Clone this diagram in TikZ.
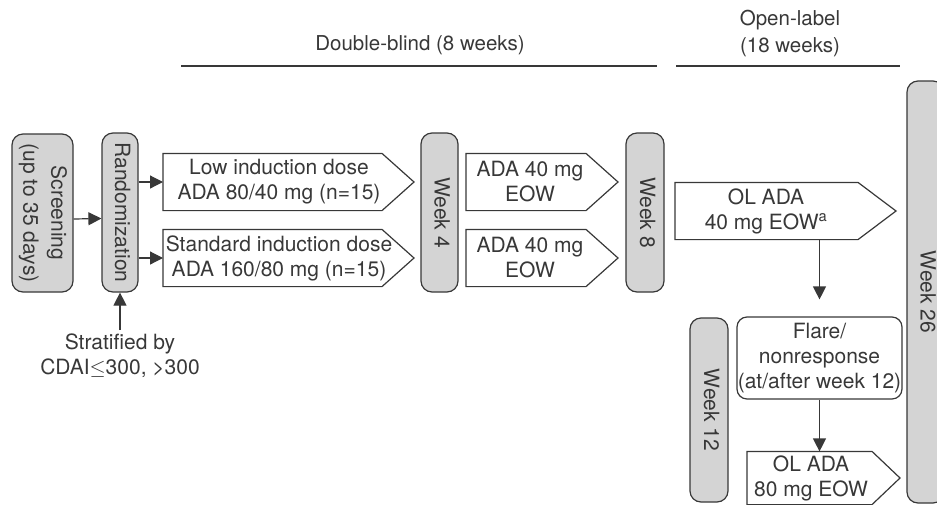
\documentclass[tikz,border=0pt]{standalone}
\usepackage{fontspec}
\usepackage{graphicx}
\usetikzlibrary{arrows.meta}
\setmainfont{TeX Gyre Heros}
\definecolor{ink}{HTML}{383838}
\definecolor{boxgray}{HTML}{D4D4D4}
\newcommand{\vtext}[1]{\rotatebox{-90}{\begin{tabular}{@{}c@{}}#1\end{tabular}}}
% outline of an arrow box: node, body left x, body right x, tip x
\newcommand{\tipbox}[4]{\draw (#2,0 |- #1.north) -- (#3,0 |- #1.north) -- (#4,0 |- #1.center) -- (#3,0 |- #1.south) -- (#2,0 |- #1.south) -- cycle;}
\tikzset{
	week/.style={draw, fill=boxgray, rounded corners=11pt, inner sep=0pt},
	dose/.style={inner sep=0pt, minimum height=56pt, align=center},
	arr/.style={-{Triangle[length=13pt,width=13pt]}},
	head/.style={font=\fontsize{20.5}{27}\selectfont, align=center},
}

\begin{document}
\begin{tikzpicture}[x=1pt, y=-1pt, color=ink, line width=1.2pt, font=\fontsize{21}{25}\selectfont]
		\useasboundingbox (0,0) rectangle (937,504);
		\clip (0,0) rectangle (937,504);
		% headers
		\node[head] (db) at (420,45) {Double-blind (8 weeks)};
		\node[head] (ol) at (790,33.5) {Open-label\\(18 weeks)};
		\draw (181,66) -- (657,66);
		\draw (676,66) -- (900,66);
		% gray time points
		\node[week, minimum width=61pt, minimum height=158pt] (screen) at (42.5,213) {\vtext{Screening\\[3pt](up to 35 days)}};
		\node[week, minimum width=36pt, minimum height=159pt] (rand) at (120,212.5) {\vtext{Randomization}};
		\node[week, minimum width=37pt, minimum height=159pt] (wk4) at (439.5,212.5) {\vtext{Week 4}};
		\node[week, minimum width=38pt, minimum height=159pt] (wk8) at (645,212.5) {\vtext{Week 8}};
		\node[week, minimum width=38pt, minimum height=184pt] (wk12) at (709,410) {\vtext{Week 12}};
		\node[week, minimum width=37pt, minimum height=422pt] (wk26) at (925.5,292) {\vtext{Week 26}};
		% dose arms
		\node[dose] (low) at (279,182) {Low induction dose\\ADA 80/40 mg (n=15)};
		\node[dose] (std) at (279,258) {Standard induction dose\\ADA 160/80 mg (n=15)};
		\node[dose] (ada1) at (530,182) {ADA 40 mg\\EOW};
		\node[dose] (ada2) at (530,258) {ADA 40 mg\\EOW};
		\node[dose] (ol40) at (766,211) {OL ADA\\40 mg EOW\textsuperscript{a}};
		\node[dose, minimum height=52pt] (ol80) at (811,478) {OL ADA\\80 mg EOW};
		\tipbox{low}{163}{382}{414}
		\tipbox{std}{163}{382}{414}
		\tipbox{ada1}{466}{586}{618}
		\tipbox{ada2}{466}{586}{618}
		\tipbox{ol40}{675}{858}{896}
		\tipbox{ol80}{747}{872}{900}
		\node[draw, rounded corners=10pt, inner sep=0pt, minimum width=165pt, minimum height=82pt, align=center] (flare) at (819.5,358) {Flare/\\nonresponse\\(at/after week 12)};
		\node[align=center] (strat) at (120,356) {Stratified by\\CDAI$\leq$300, >300};
		% arrows
		\draw[arr] ([yshift=-6pt]screen.east) -- ([yshift=-6pt]rand.west);
		\draw[arr] (rand.east |- low.west) -- (low.west -| 163,0);
		\draw[arr] (rand.east |- std.west) -- (std.west -| 163,0);
		\draw[arr] (strat.north) -- (rand.south);
		\draw[arr, shorten >=17pt] (flare.north |- ol40.south) -- (flare.north);
		\draw[arr] (flare.south) -- (flare.south |- ol80.north);
	\end{tikzpicture}
\end{document}
